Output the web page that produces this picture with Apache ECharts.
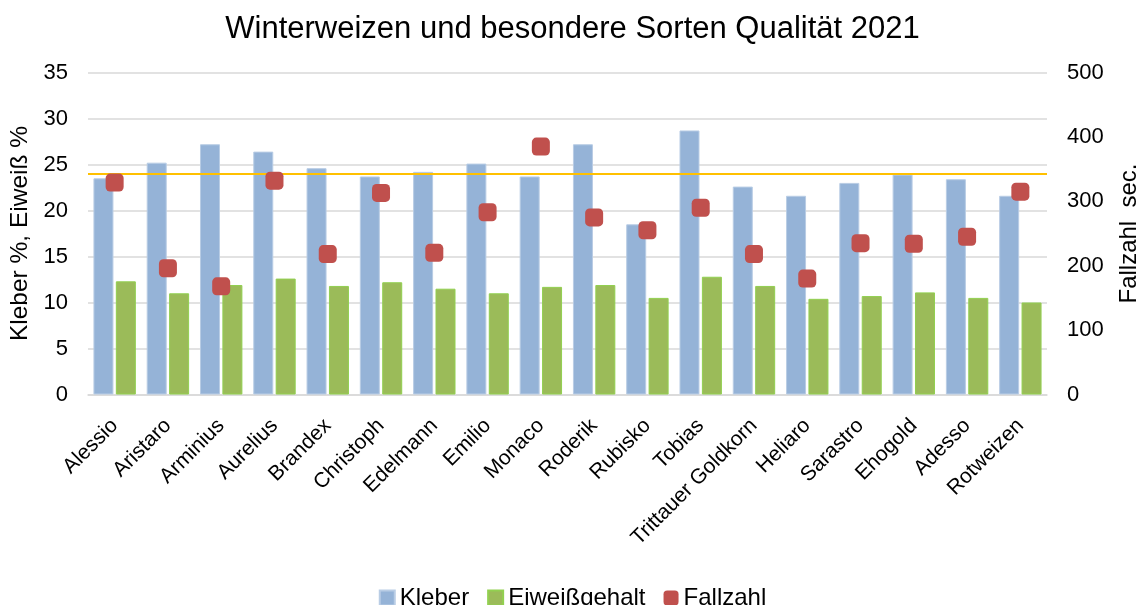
<!DOCTYPE html>
<html><head><meta charset="utf-8">
<script src="https://cdn.jsdelivr.net/npm/echarts@6/dist/echarts.min.js"></script>
<style>html,body{margin:0;padding:0;background:#fff}#c{width:1145px;height:605px}</style>
</head><body><div id="c"></div>
<script>
const categories = ["Alessio","Aristaro","Arminius","Aurelius","Brandex","Christoph","Edelmann","Emilio","Monaco","Roderik","Rubisko","Tobias","Trittauer Goldkorn","Heliaro","Sarastro","Ehogold","Adesso","Rotweizen"];
const kleber = [23.5,25.2,27.2,26.4,24.6,23.7,24.2,25.1,23.7,27.2,18.5,28.7,22.6,21.6,23.0,23.9,23.4,21.6];
const eiweiss = [12.3,11.0,11.9,12.6,11.8,12.2,11.5,11.0,11.7,11.9,10.5,12.8,11.8,10.4,10.7,11.1,10.5,10.0];
const fallzahl = [329,196,168,332,218,313,220,283,385,275,255,290,218,180,235,234,245,315];
const referenceLine = 24;
const leftTicks = {min:0,max:35,interval:5};
const rightTicks = {min:0,max:500,interval:100};

const font = "'Liberation Sans', Arial, sans-serif";
const chart = echarts.init(document.getElementById('c'));
chart.setOption({
  animation:false,
  textStyle:{fontFamily:font},
  title:{text:"Winterweizen und besondere Sorten Qualität 2021",left:'center',top:9,
    textStyle:{fontFamily:font,fontSize:31,fontWeight:'normal',color:'#000'}},
  grid:{left:88,right:98,top:72.5,bottom:210.5,containLabel:false,outerBoundsMode:'none'},
  legend:{top:581,left:'center',itemWidth:15,itemHeight:15,itemGap:18,
    textStyle:{fontFamily:font,fontSize:24,color:'#000'},
    data:[{name:'Kleber',icon:'rect'},{name:'Eiweißgehalt',icon:'rect'},{name:'Fallzahl',icon:'roundRect'}]},
  xAxis:{type:'category',data:categories,
    axisLine:{lineStyle:{color:'#D9D9D9',width:1.5}},axisTick:{show:false},
    axisLabel:{rotate:45,interval:0,fontSize:21,color:'#000',fontFamily:font,margin:28}},
  yAxis:[
    {type:'value',min:leftTicks.min,max:leftTicks.max,interval:leftTicks.interval,
     name:'Kleber %, Eiweiß %',nameLocation:'middle',nameGap:44,nameRotate:90,
     nameTextStyle:{fontSize:24.5,color:'#000',fontFamily:font},
     axisLabel:{fontSize:22,color:'#000',margin:20},
     splitLine:{lineStyle:{color:'#D9D9D9',width:1.5}},axisLine:{show:false},axisTick:{show:false}},
    {type:'value',min:rightTicks.min,max:rightTicks.max,interval:rightTicks.interval,
     name:'Fallzahl  sec.',nameLocation:'middle',nameGap:70,nameRotate:90,
     nameTextStyle:{fontSize:24,color:'#000',fontFamily:font},
     axisLabel:{fontSize:22,color:'#000',margin:20},
     splitLine:{show:false},axisLine:{show:false},axisTick:{show:false}}
  ],
  series:[
    {name:'Kleber',type:'bar',data:kleber,barWidth:20,barGap:'12%',
     itemStyle:{color:'#95B3D7',borderColor:'#B9CDE5',borderWidth:1},
     markLine:{silent:true,symbol:['none','none'],label:{show:false},
       lineStyle:{color:'#FFC000',width:2,type:'solid'},data:[{yAxis:referenceLine}]}},
    {name:'Eiweißgehalt',type:'bar',data:eiweiss,barWidth:20,
     itemStyle:{color:'#9BBB59',borderColor:'#92D050',borderWidth:1}},
    {name:'Fallzahl',type:'scatter',yAxisIndex:1,data:fallzahl,symbol:'roundRect',symbolSize:18,
     itemStyle:{color:'#C0504D',opacity:1},z:5}
  ]
});
</script></body></html>
